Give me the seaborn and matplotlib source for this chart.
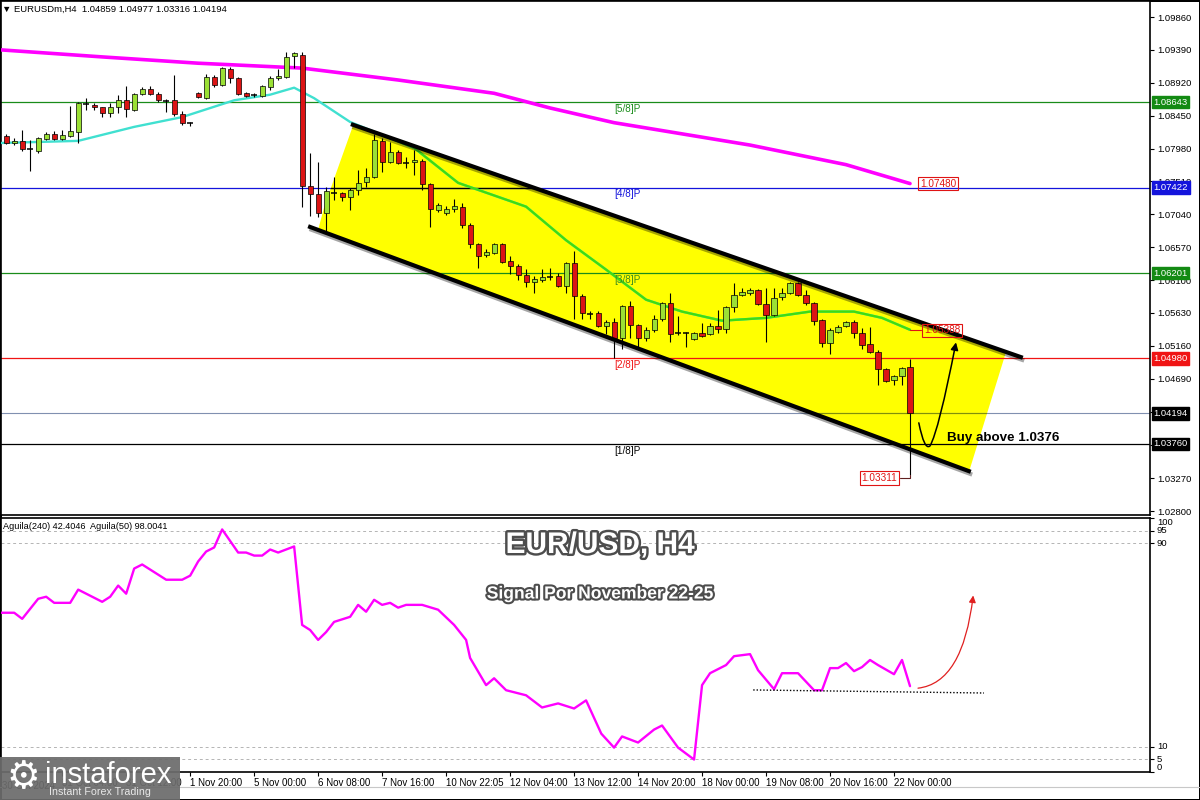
import numpy as np
import pandas as pd
import seaborn as sns
import matplotlib.pyplot as plt
import matplotlib.transforms as mtransforms
from matplotlib import patheffects as pe
from matplotlib.path import Path
from matplotlib.patches import Polygon, FancyArrowPatch, Rectangle
from matplotlib.lines import Line2D

# EURUSD H4 bars, oldest first
opens = [1.0816, 1.0806, 1.0809, 1.0797, 1.0795, 1.0812, 1.0819, 1.0812, 1.0816, 1.0822,
         1.0862, 1.0860, 1.0857, 1.0849, 1.0857, 1.0867, 1.0853, 1.0876, 1.0883, 1.0876,
         1.0867, 1.0867, 1.0847, 1.0833, 1.0877, 1.0870, 1.0900, 1.0889, 1.0912, 1.0899,
         1.0877, 1.0873, 1.0873, 1.0886, 1.0899, 1.0900, 1.0930, 1.0932, 1.0745, 1.0733,
         1.0706, 1.0735, 1.0734, 1.0729, 1.0739, 1.0750, 1.0757, 1.0809, 1.0779, 1.0793,
         1.0777, 1.0779, 1.0780, 1.0747, 1.0710, 1.0706, 1.0712, 1.0715, 1.0689, 1.0662,
         1.0646, 1.0649, 1.0662, 1.0637, 1.0630, 1.0617, 1.0607, 1.0610, 1.0616, 1.0616,
         1.0602, 1.0635, 1.0587, 1.0563, 1.0563, 1.0544, 1.0550, 1.0527, 1.0573, 1.0546,
         1.0527, 1.0539, 1.0554, 1.0577, 1.0534, 1.0535, 1.0526, 1.0534, 1.0533, 1.0544,
         1.0540, 1.0572, 1.0589, 1.0592, 1.0596, 1.0576, 1.0560, 1.0586, 1.0592, 1.0606,
         1.0589, 1.0577, 1.0553, 1.0520, 1.0536, 1.0544, 1.0550, 1.0534, 1.0518, 1.0507,
         1.0483, 1.0467, 1.0473, 1.04859]
highs = [1.0819, 1.0813, 1.0825, 1.0810, 1.0815, 1.0822, 1.0823, 1.0825, 1.0859, 1.0865,
         1.0870, 1.0863, 1.0858, 1.0863, 1.0875, 1.0887, 1.0877, 1.0886, 1.0887, 1.0879,
         1.0869, 1.0903, 1.0852, 1.0836, 1.0879, 1.0905, 1.0903, 1.0915, 1.0915, 1.0900,
         1.0879, 1.0877, 1.0889, 1.0902, 1.0912, 1.0936, 1.0936, 1.0936, 1.0792, 1.0779,
         1.0743, 1.0757, 1.0736, 1.0742, 1.0767, 1.0770, 1.0819, 1.0813, 1.0807, 1.0796,
         1.0786, 1.0796, 1.0783, 1.0749, 1.0720, 1.0716, 1.0726, 1.0720, 1.0692, 1.0663,
         1.0655, 1.0663, 1.0663, 1.0645, 1.0633, 1.0626, 1.0616, 1.0626, 1.0627, 1.0620,
         1.0636, 1.0652, 1.0590, 1.0566, 1.0566, 1.0553, 1.0556, 1.0574, 1.0580, 1.0547,
         1.0543, 1.0560, 1.0579, 1.0592, 1.0559, 1.0536, 1.0536, 1.0549, 1.0549, 1.0567,
         1.0573, 1.0606, 1.0599, 1.0599, 1.0597, 1.0599, 1.0599, 1.0599, 1.0607, 1.0607,
         1.0596, 1.0579, 1.0554, 1.0542, 1.0546, 1.0552, 1.0553, 1.0542, 1.0543, 1.0510,
         1.0484, 1.0475, 1.0486, 1.04977]
lows = [1.0805, 1.0803, 1.0795, 1.0766, 1.0792, 1.0810, 1.0810, 1.0810, 1.0815, 1.0806,
        1.0853, 1.0853, 1.0843, 1.0843, 1.0849, 1.0843, 1.0852, 1.0875, 1.0875, 1.0865,
        1.0850, 1.0845, 1.0832, 1.0830, 1.0870, 1.0869, 1.0886, 1.0887, 1.0892, 1.0875,
        1.0872, 1.0872, 1.0872, 1.0882, 1.0896, 1.0899, 1.0913, 1.0715, 1.0702, 1.0700,
        1.0677, 1.0725, 1.0723, 1.0710, 1.0732, 1.0743, 1.0756, 1.0765, 1.0777, 1.0776,
        1.0770, 1.0760, 1.0739, 1.0686, 1.0707, 1.0703, 1.0707, 1.0685, 1.0656, 1.0627,
        1.0643, 1.0647, 1.0635, 1.0619, 1.0610, 1.0600, 1.0592, 1.0607, 1.0610, 1.0600,
        1.0592, 1.0554, 1.0554, 1.0554, 1.0543, 1.0533, 1.0499, 1.0512, 1.0527, 1.0514,
        1.0523, 1.0536, 1.0552, 1.0522, 1.0532, 1.0514, 1.0524, 1.0529, 1.0532, 1.0534,
        1.0534, 1.0565, 1.0587, 1.0589, 1.0574, 1.0522, 1.0559, 1.0582, 1.0590, 1.0587,
        1.0574, 1.0546, 1.0514, 1.0504, 1.0534, 1.0543, 1.0527, 1.0512, 1.0506, 1.0460,
        1.0464, 1.0460, 1.0460, 1.03316]
closes = [1.0806, 1.0809, 1.0797, 1.0798, 1.0813, 1.0819, 1.0812, 1.0817, 1.0823, 1.0863,
          1.0861, 1.0857, 1.0849, 1.0857, 1.0867, 1.0854, 1.0876, 1.0883, 1.0876, 1.0867,
          1.0866, 1.0847, 1.0835, 1.0834, 1.0872, 1.0900, 1.0889, 1.0913, 1.0899, 1.0876,
          1.0873, 1.0874, 1.0887, 1.0899, 1.0902, 1.0929, 1.0935, 1.0745, 1.0733, 1.0706,
          1.0737, 1.0734, 1.0729, 1.0739, 1.0749, 1.0757, 1.0810, 1.0779, 1.0793, 1.0777,
          1.0778, 1.0782, 1.0747, 1.0712, 1.0717, 1.0712, 1.0716, 1.0689, 1.0662, 1.0645,
          1.0650, 1.0662, 1.0636, 1.0630, 1.0617, 1.0607, 1.0612, 1.0615, 1.0615, 1.0602,
          1.0635, 1.0587, 1.0563, 1.0562, 1.0544, 1.0550, 1.0527, 1.0573, 1.0546, 1.0527,
          1.0539, 1.0554, 1.0577, 1.0533, 1.0535, 1.0534, 1.0534, 1.0530, 1.0544, 1.0540,
          1.0572, 1.0589, 1.0593, 1.0596, 1.0576, 1.0560, 1.0584, 1.0592, 1.0606, 1.0589,
          1.0577, 1.0552, 1.0520, 1.0539, 1.0543, 1.0550, 1.0534, 1.0517, 1.0507, 1.0483,
          1.0466, 1.0473, 1.0485, 1.04194]

# moving averages (bar index, price)
ma_slow_idx = [-0.6, 12, 24, 37, 49, 61, 68, 76, 93, 105, 113]
ma_slow_val = [1.0939, 1.0929, 1.0920, 1.0913, 1.0896, 1.0877, 1.0856, 1.0835, 1.0803, 1.0775, 1.0748]
ma_fast_idx = [-0.6, 9, 16, 22, 28.5, 33, 36, 38.5, 43, 51, 56.5, 65, 70, 75, 80, 84.5, 89.5,
               95, 100.5, 106, 109.5, 113]
ma_fast_val = [1.0806, 1.0809, 1.0829, 1.0843, 1.0867, 1.0875, 1.0885, 1.0870, 1.0836, 1.0799,
               1.0749, 1.0715, 1.0667, 1.0625, 1.0582, 1.0565, 1.0552, 1.0556, 1.0565, 1.0565,
               1.0556, 1.0539]

# Murrey levels
level_prices = [1.08643, 1.07422, 1.06201, 1.04980, 1.03760]
level_names = ["[5/8]P", "[4/8]P", "[3/8]P", "[2/8]P", "[1/8]P"]
last_price = 1.04194

price_ticks = [1.09860, 1.09390, 1.08920, 1.08450, 1.07980, 1.07510, 1.07040, 1.06570,
               1.06100, 1.05630, 1.05160, 1.04690, 1.04220, 1.03750, 1.03270, 1.02800]
# ticks hidden behind the price tags
hidden_ticks = [1.04220, 1.03750]

date_idx = [7, 15, 23, 31, 39, 47, 55, 63, 71, 79, 87, 95, 103, 111]
date_labels = ["31 Oct 04:00", "31 Oct 12:00", "1 Nov 20:00", "5 Nov 00:00", "6 Nov 08:00",
               "7 Nov 16:00", "10 Nov 22:05", "12 Nov 04:00", "13 Nov 12:00", "14 Nov 20:00",
               "18 Nov 00:00", "19 Nov 08:00", "20 Nov 16:00", "22 Nov 00:00"]

# Aguila oscillator (bar index, value)
ind_idx = [-0.6, 1, 2, 4, 5, 6, 8, 9, 12, 13, 14, 15, 16, 17, 18, 20, 22, 23, 24, 25, 26, 27,
           29, 30, 31, 32, 33, 34, 36, 37, 38, 39, 40, 41, 43, 44, 45, 46, 47, 48, 49, 50, 52,
           54, 56, 57.5, 58, 60, 61, 62.5, 65, 67, 69, 71, 72.5, 74.4, 76, 77, 79, 81, 82, 84,
           86, 87, 88, 90, 91, 93, 94, 96, 97, 99, 101, 102, 103, 104, 105, 106, 107, 108, 109,
           111, 112, 113]
ind_val = [62.7, 62.7, 60.3, 68.2, 69.0, 66.6, 66.6, 71.8, 67.0, 69.0, 73.4, 70.2, 80.1, 81.7,
           79.7, 75.7, 75.7, 77.3, 82.9, 86.8, 88.4, 95.5, 86.4, 86.4, 85.2, 85.2, 87.6, 86.4,
           88.8, 57.9, 55.9, 52.0, 55.1, 59.1, 61.1, 65.8, 63.1, 67.8, 65.8, 66.6, 64.7, 65.8,
           65.8, 63.9, 57.9, 52.0, 44.9, 34.2, 36.9, 32.2, 30.2, 25.4, 27.0, 25.0, 28.2, 15.1,
           9.6, 14.0, 11.6, 16.7, 18.3, 9.6, 4.9, 34.2, 38.9, 42.1, 45.6, 46.4, 40.1, 32.6, 38.9,
           38.9, 32.2, 32.2, 40.9, 40.9, 42.9, 39.7, 41.3, 44.1, 42.1, 38.5, 44.1, 33.8]

# trend channel drawn on the chart
chan_upper_x = [43.1, 127.1]
chan_upper_y = [1.0833, 1.0499]
chan_lower_x = [37.75, 120.6]
chan_lower_y = [1.0687, 1.0336]
chan_fill = [(43.4, 1.0832), (125.0, 1.0507), (120.4, 1.0337), (39.0, 1.0682),
             (39.75, 1.0714), (41.25, 1.0763)]

sns.set_theme(style="white")
plt.rcParams["font.family"] = ["Liberation Sans", "DejaVu Sans"]

fig = plt.figure(figsize=(12, 8), dpi=100, edgecolor="black", linewidth=2)
ax = fig.add_axes([0.001, 0.35625, 0.9573, 0.6425])
ax2 = fig.add_axes([0.001, 0.035, 0.9573, 0.3175])

xmin, xmax = -0.625, 143.0
ax.set_xlim(xmin, xmax)
ax.set_ylim(1.02743, 1.10089)
ax2.set_xlim(xmin, xmax)
ax2.set_ylim(0, 100)

# channel fill
poly = Polygon(chan_fill, closed=True, facecolor="#ffff00", edgecolor="none", zorder=1)
ax.add_patch(poly)

# level lines
level_colors = ["#1a8c1a", "#1414dc", "#1a8c1a", "#f01414", "#000000"]
box_colors = ["#138a13", "#1414dc", "#138a13", "#f01414", "#000000"]
for p, name, c in zip(level_prices, level_names, level_colors):
    ax.axhline(p, color=c, lw=0.9, zorder=2)
    ax.text(76, p - 0.00025, name, color=c if name != "[3/8]P" else "#3c8c1e",
            fontsize=7.2, va="top", ha="left", zorder=6)
blk = ax.axhline(level_prices[1], color="black", lw=0.9, zorder=2.1)
blk.set_clip_path(poly)
ax.axhline(last_price, color="#8090b0", lw=0.8, zorder=2)
olv = ax.axhline(last_price, color="#80900a", lw=0.8, zorder=2.1)
olv.set_clip_path(poly)

# moving averages
sns.lineplot(x=ma_slow_idx, y=ma_slow_val, ax=ax, color="#ff00ff", lw=2.6, zorder=3)
sns.lineplot(x=ma_fast_idx, y=ma_fast_val, ax=ax, color="#40e0d0", lw=1.7, zorder=3)
inner, = ax.plot(ma_fast_idx, ma_fast_val, color="#40dc10", lw=1.7, zorder=3.1)
inner.set_clip_path(poly)

# candles
o = np.array(opens)
h = np.array(highs)
l = np.array(lows)
c = np.array(closes)
idx = np.arange(len(o))
ax.vlines(idx, l, h, colors="black", lw=0.8, zorder=4)
body = np.abs(c - o) >= 0.00015
bcol = np.where(c >= o, "#9be035", "#dc1414")
ax.bar(idx[body], np.abs(c - o)[body], bottom=np.minimum(o, c)[body], width=0.64,
       color=bcol[body], edgecolor="black", linewidth=0.5, zorder=4.5)
ax.hlines(c[~body], idx[~body] - 0.35, idx[~body] + 0.35, colors="black", lw=1.1, zorder=4.5)

# channel lines
shadow = [pe.SimpleLineShadow(offset=(1, -2), shadow_color="black", alpha=0.35), pe.Normal()]
ax.plot(chan_upper_x, chan_upper_y, color="black", lw=3, solid_capstyle="butt",
        zorder=5, path_effects=shadow)
ax.plot(chan_lower_x, chan_lower_y, color="black", lw=3, solid_capstyle="butt",
        zorder=5, path_effects=shadow)

# right price axis
ax.yaxis.tick_right()
ax.set_yticks(price_ticks)
ax.set_yticklabels(["" if t in hidden_ticks else f"{t:.5f}" for t in price_ticks])
ax.tick_params(axis="y", direction="out", length=3, width=0.8, pad=2, labelsize=6.8,
               colors="black", right=True, left=False)
ax.set_xticks([])
for s in ax.spines.values():
    s.set_color("black")
    s.set_linewidth(1.2)

trans = mtransforms.blended_transform_factory(ax.transAxes, ax.transData)
for p, bc in zip(level_prices, box_colors):
    ax.text(1.003, p, f"{p:.5f}", transform=trans, color="white", fontsize=6.8,
            va="center", ha="left", zorder=10, clip_on=False,
            bbox=dict(boxstyle="square,pad=0.18", fc=bc, ec=bc))
ax.text(1.003, last_price, f"{last_price:.5f}", transform=trans, color="white", fontsize=6.8,
        va="center", ha="left", zorder=10, clip_on=False,
        bbox=dict(boxstyle="square,pad=0.18", fc="black", ec="black"))

# value tags
tag = dict(boxstyle="square,pad=0.18", fc="none", ec="#e01414", lw=0.8)
ax.text(116.5, ma_slow_val[-1], f"{ma_slow_val[-1]:.5f}", color="#e01414", fontsize=7.2,
        ha="center", va="center", bbox=tag, zorder=6)
ax.plot([113, 114.4], [ma_fast_val[-1], ma_fast_val[-1]], color="#e01414", lw=0.8, zorder=6)
ax.text(117.0, 1.0538, "1.05388", color="#e01414", fontsize=7.2, ha="center", va="center",
        bbox=tag, zorder=6)
ax.plot([113, 113, 111.7], [lows[-1], 1.0327, 1.0327], color="#602020", lw=0.8, zorder=6)
ax.text(109.2, 1.0327, "1.03311", color="#e01414", fontsize=7.2, ha="center", va="center",
        bbox=tag, zorder=6)

# buy arrow and text
upath = Path([(114.1, 1.0406), (114.8, 1.0366), (115.5, 1.0373), (116.6, 1.0395), (118.75, 1.0521)],
             [Path.MOVETO, Path.CURVE3, Path.CURVE3, Path.CURVE3, Path.CURVE3])
ax.add_patch(FancyArrowPatch(path=upath, arrowstyle="-|>", mutation_scale=11,
                             color="black", lw=1.1, zorder=6))
ax.text(117.6, 1.0384, "Buy above 1.0376", fontsize=9.6, fontweight="bold", color="black",
        ha="left", va="center", zorder=6)

fig.text(0.0015, 1 - 9 / 800, "\u25bc EURUSDm,H4  1.04859 1.04977 1.03316 1.04194",
         fontsize=6.8, va="center", ha="left", color="black")

# indicator panel
for lv in [95, 90, 10, 5]:
    ax2.axhline(lv, color="#b4b4b4", lw=0.7, ls=(0, (3, 3)), zorder=1)
sns.lineplot(x=ind_idx, y=ind_val, ax=ax2, color="#ff00ff", lw=1.7, zorder=3)
ax2.plot([93.4, 122.25], [32.3, 31.1], color="black", lw=1.0, ls=(0, (1, 1.4)), zorder=3)
rpath = Path([(114, 33.0), (119.6, 35.0), (120.9, 69.5)], [Path.MOVETO, Path.CURVE3, Path.CURVE3])
ax2.add_patch(FancyArrowPatch(path=rpath, arrowstyle="-|>", mutation_scale=10,
                              color="#e02020", lw=0.9, zorder=4))
ax2.text(0.002, 0.985, "Aguila(240) 42.4046  Aguila(50) 98.0041", transform=ax2.transAxes,
         fontsize=6.6, va="top", ha="left", color="black")

ax2.yaxis.tick_right()
ax2.set_yticks([0, 5, 10, 90, 95, 100])
ax2.set_yticklabels(["0", "5", "10", "90", "95", "100"])
ax2.tick_params(axis="y", direction="out", length=3, width=0.8, pad=2, labelsize=6.8,
                colors="black", right=True, left=False)
for t, va in zip(ax2.get_yticklabels(), ["bottom", "center", "center", "center", "center", "top"]):
    t.set_va(va)
ax2.set_xticks(date_idx)
ax2.set_xticklabels(date_labels, ha="left")
ax2.tick_params(axis="x", direction="out", length=3, width=0.8, pad=1.5, labelsize=7,
                colors="black", bottom=True)
ax2.set_xlabel("")
ax2.set_ylabel("")
ax.set_xlabel("")
ax.set_ylabel("")
for s in ax2.spines.values():
    s.set_color("black")
    s.set_linewidth(1.2)
fig.text(0.0015, 0.018, "30 Oct 2024", fontsize=7, ha="left", va="center", color="black")

# titles
fig.text(0.5, 1 - 545 / 800, "EUR/USD, H4", fontsize=21.5, fontweight="bold", color="white",
         ha="center", va="center", path_effects=[pe.withStroke(linewidth=3.5, foreground="#4d4d4d")])
fig.text(0.5, 1 - 594 / 800, "Signal Por November 22-25", fontsize=12.6, fontweight="bold",
         color="white", ha="center", va="center",
         path_effects=[pe.withStroke(linewidth=3, foreground="#4d4d4d")])

# bottom frame lines and logo
fig.add_artist(Line2D([0, 1], [0.016, 0.016], color="#c8c8c8", lw=0.8, transform=fig.transFigure))
fig.add_artist(Rectangle((0, 0), 180 / 1200, 43 / 800, transform=fig.transFigure,
                         facecolor="#6c6c6c", edgecolor="none", alpha=0.93, zorder=10))
fig.text(0.019, 0.028, "\u2699", fontsize=27, color="white", family="DejaVu Sans",
         ha="center", va="center", zorder=11)
fig.text(0.0375, 0.021, "instaforex", fontsize=21, color="white", ha="left",
         va="baseline", zorder=11)
fig.text(0.041, 0.006, "Instant Forex Trading", fontsize=7.7, color="#e8e8e8", ha="left",
         va="baseline", zorder=11)

plt.savefig("out.png", dpi=100)
